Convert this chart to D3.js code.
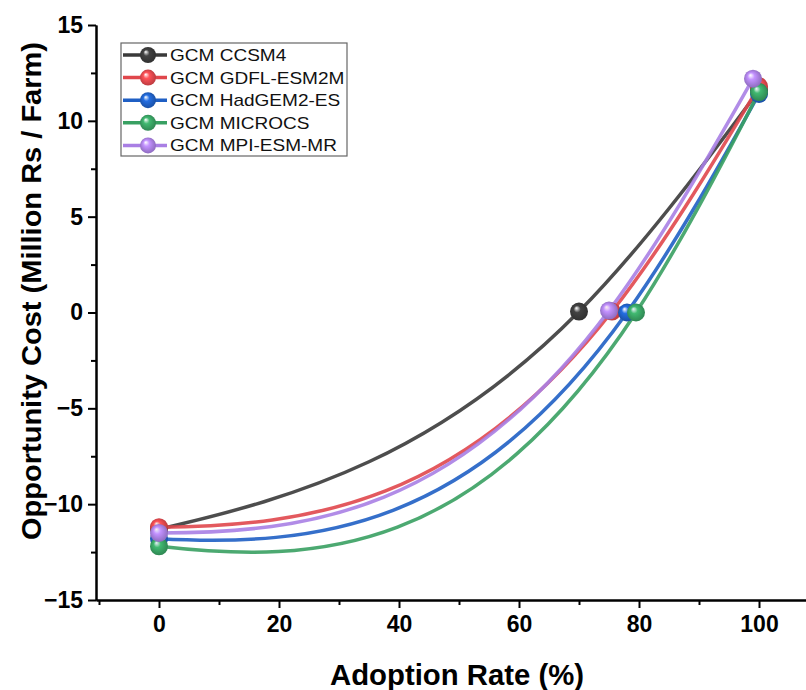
<!DOCTYPE html>
<html>
<head>
<meta charset="utf-8">
<script src="https://cdn.jsdelivr.net/npm/d3@7"></script>
<style>
  body { margin: 0; background: #fff; }
  svg { display: block; font-family: "Liberation Sans", Arial, sans-serif; }
</style>
</head>
<body>
<svg id="chart" width="806" height="690"></svg>
<script>
// series: adoption rate (%) vs opportunity cost (million Rs / farm)
var names = ["GCM CCSM4", "GCM GDFL-ESM2M", "GCM HadGEM2-ES", "GCM MICROCS", "GCM MPI-ESM-MR"];
var colors = ["#3a3a3a", "#e0474c", "#1f5fc4", "#38a062", "#a97fe4"];
var ccsm4X = [0, 70, 100],  ccsm4Y = [-11.3, 0.05, 11.6];
var gdflX = [0, 75.5, 100], gdflY = [-11.2, 0.05, 11.8];
var hadgemX = [0, 78, 100], hadgemY = [-11.8, 0, 11.4];
var microcsX = [0, 79.5, 100], microcsY = [-12.2, 0, 11.5];
var mpiX = [0, 75, 99], mpiY = [-11.5, 0.1, 12.2];
var xTicks = [0, 20, 40, 60, 80, 100];
var xMinor = [-10, 10, 30, 50, 70, 90, 110];
var yTicks = [-15, -10, -5, 0, 5, 10, 15];
var yMinor = [-12.5, -7.5, -2.5, 2.5, 7.5, 12.5];

var xs = [ccsm4X, gdflX, hadgemX, microcsX, mpiX],
    ys = [ccsm4Y, gdflY, hadgemY, microcsY, mpiY];
var series = names.map(function(n, i) {
  return { name: n, color: colors[i], values: xs[i].map(function(x, j) { return { x: x, y: ys[i][j] }; }) };
});

// cubic spline of y over x (like Origin's "Spline" connect), end curvature tied to the neighbour
function SplineX(context) { this._context = context; }
SplineX.prototype = {
  areaStart: function() { this._line = 0; },
  areaEnd: function() { this._line = NaN; },
  lineStart: function() { this._x = []; this._y = []; },
  point: function(x, y) { this._x.push(+x); this._y.push(+y); },
  lineEnd: function() {
    var X = this._x, Y = this._y, n = X.length, c = this._context, lam = 0.12;
    if (!n) return;
    c.moveTo(X[0], Y[0]);
    if (n < 3) { if (n === 2) c.lineTo(X[1], Y[1]); return; }
    var h = [], d = [], i;
    for (i = 0; i < n - 1; i++) { h[i] = X[i + 1] - X[i]; d[i] = (Y[i + 1] - Y[i]) / h[i]; }
    // tridiagonal system for second derivatives
    var a = [0], b = [1], cc = [-lam], r = [0];
    for (i = 1; i < n - 1; i++) {
      a[i] = h[i - 1]; b[i] = 2 * (h[i - 1] + h[i]); cc[i] = h[i]; r[i] = 6 * (d[i] - d[i - 1]);
    }
    a[n - 1] = -lam; b[n - 1] = 1; cc[n - 1] = 0; r[n - 1] = 0;
    for (i = 1; i < n; i++) {
      var m = a[i] / b[i - 1];
      b[i] -= m * cc[i - 1];
      r[i] -= m * r[i - 1];
    }
    var M = [];
    M[n - 1] = r[n - 1] / b[n - 1];
    for (i = n - 2; i >= 0; i--) M[i] = (r[i] - cc[i] * M[i + 1]) / b[i];
    for (i = 0; i < n - 1; i++) {
      var s0 = d[i] - h[i] * (2 * M[i] + M[i + 1]) / 6,
          s1 = d[i] + h[i] * (M[i] + 2 * M[i + 1]) / 6,
          k = h[i] / 3;
      c.bezierCurveTo(X[i] + k, Y[i] + s0 * k, X[i + 1] - k, Y[i + 1] - s1 * k, X[i + 1], Y[i + 1]);
    }
  }
};
function curveSplineX(context) { return new SplineX(context); }

var svg = d3.select("#chart"),
    x = d3.scaleLinear().domain([-10.5, 110]).range([96, 819]),
    y = d3.scaleLinear().domain([-15, 15]).range([600, 25]);

// sphere-look gradients for markers
var defs = svg.append("defs");
series.forEach(function(s, i) {
  var g = defs.append("radialGradient")
    .attr("id", "ball" + i)
    .attr("cx", "50%").attr("cy", "50%").attr("r", "55%")
    .attr("fx", "35%").attr("fy", "30%");
  g.append("stop").attr("offset", "0%").attr("stop-color", "#fff").attr("stop-opacity", 0.9);
  g.append("stop").attr("offset", "35%").attr("stop-color", d3.color(s.color).brighter(0.4));
  g.append("stop").attr("offset", "100%").attr("stop-color", d3.color(s.color).darker(0.6));
});

// axes
svg.append("g")
  .attr("transform", "translate(0,600)")
  .call(d3.axisBottom(x).tickValues(xTicks).tickSize(8).tickSizeOuter(0).tickPadding(8));
svg.append("g")
  .attr("transform", "translate(0,600)")
  .call(d3.axisBottom(x).tickValues(xMinor).tickSize(5).tickSizeOuter(0).tickFormat(""));
svg.append("g")
  .attr("transform", "translate(96,0)")
  .call(d3.axisLeft(y).tickValues(yTicks).tickSize(8).tickSizeOuter(0).tickPadding(5));
svg.append("g")
  .attr("transform", "translate(96,0)")
  .call(d3.axisLeft(y).tickValues(yMinor).tickSize(5).tickSizeOuter(0).tickFormat(""));

svg.selectAll(".domain").attr("stroke", "#000").attr("stroke-width", 2);
svg.selectAll(".tick line").attr("stroke", "#000").attr("stroke-width", 2);
svg.selectAll(".tick text")
  .attr("fill", "#000")
  .style("font-size", "23px")
  .style("font-weight", "bold")
  .style("font-family", "'Liberation Sans', Arial, sans-serif");

// axis titles
svg.append("text")
  .attr("x", 457).attr("y", 685)
  .attr("text-anchor", "middle")
  .style("font-size", "29px").style("font-weight", "bold")
  .attr("textLength", 254).attr("lengthAdjust", "spacingAndGlyphs")
  .text("Adoption Rate (%)");
svg.append("text")
  .attr("transform", "translate(41,291) rotate(-90)")
  .attr("text-anchor", "middle")
  .style("font-size", "28px").style("font-weight", "bold")
  .attr("textLength", 498).attr("lengthAdjust", "spacingAndGlyphs")
  .text("Opportunity Cost (Million Rs / Farm)");

// curves
var line = d3.line()
  .x(function(d) { return x(d.x); })
  .y(function(d) { return y(d.y); })
  .curve(curveSplineX);

svg.append("g").selectAll("path")
  .data(series)
  .enter().append("path")
    .attr("d", function(d) { return line(d.values); })
    .attr("fill", "none")
    .attr("stroke", function(d) { return d.color; })
    .attr("stroke-width", 3.5)
    .attr("stroke-opacity", 0.9);

series.forEach(function(s, i) {
  svg.append("g").selectAll("circle")
    .data(s.values)
    .enter().append("circle")
      .attr("cx", function(d) { return x(d.x); })
      .attr("cy", function(d) { return y(d.y); })
      .attr("r", 9)
      .attr("fill", "url(#ball" + i + ")");
});

// legend
var legend = svg.append("g");
legend.append("rect")
  .attr("x", 121).attr("y", 43)
  .attr("width", 226).attr("height", 113)
  .attr("fill", "#fff")
  .attr("stroke", "#666").attr("stroke-width", 1.2);
series.forEach(function(s, i) {
  var ly = 55 + i * 22.6;
  legend.append("line")
    .attr("x1", 123).attr("x2", 167)
    .attr("y1", ly).attr("y2", ly)
    .attr("stroke", s.color).attr("stroke-width", 3.5);
  legend.append("circle")
    .attr("cx", 148).attr("cy", ly).attr("r", 8)
    .attr("fill", "url(#ball" + i + ")");
  legend.append("text")
    .attr("transform", "translate(170," + (ly + 6) + ") scale(1.12,1)")
    .style("font-size", "17px")
    .attr("fill", "#111")
    .text(s.name);
});
</script>
</body>
</html>
